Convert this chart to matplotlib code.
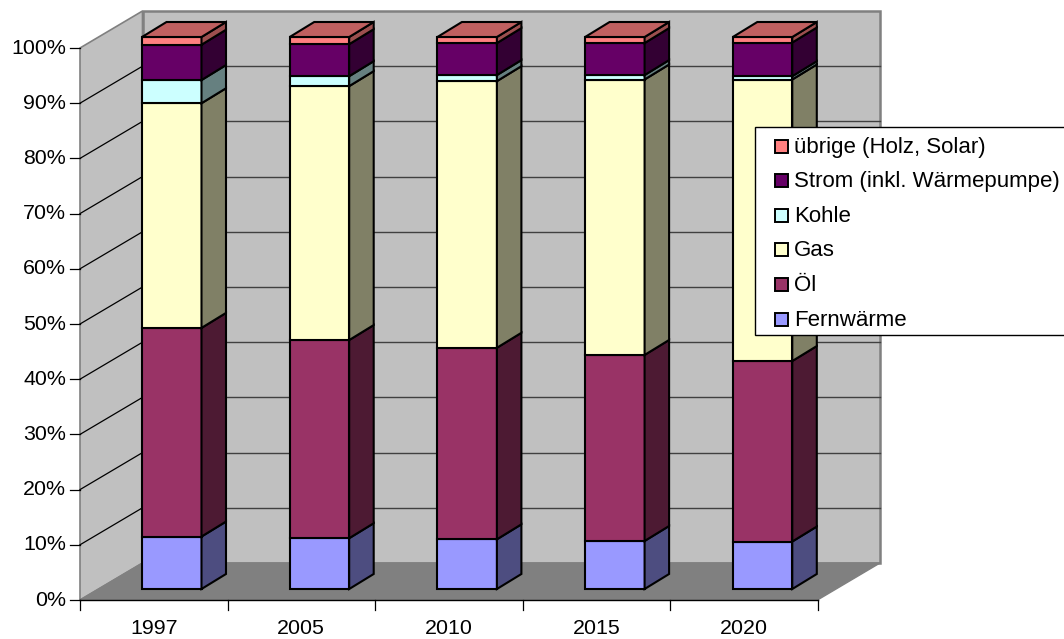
import matplotlib
matplotlib.use("Agg")
import matplotlib.pyplot as plt
import numpy as np
from matplotlib.patches import Polygon, Rectangle

plt.rcParams["font.family"] = ["Liberation Sans", "DejaVu Sans"]

YEARS = ["1997", "2005", "2010", "2015", "2020"]
FERNWAERME = [9.5, 9.2, 9.0, 8.7, 8.6]
OEL = [37.8, 35.9, 34.7, 33.7, 32.7]
GAS = [40.7, 46.0, 48.3, 49.9, 51.0]
KOHLE = [4.2, 1.8, 1.1, 0.8, 0.6]
STROM = [6.4, 5.8, 5.8, 5.8, 6.1]
UEBRIGE = [1.4, 1.3, 1.1, 1.1, 1.0]

SERIES = [FERNWAERME, OEL, GAS, KOHLE, STROM, UEBRIGE]
LABELS = ["Fernwärme", "Öl", "Gas", "Kohle", "Strom (inkl. Wärmepumpe)", "übrige (Holz, Solar)"]
FRONT = ["#9999FF", "#993366", "#FFFFCC", "#CCFFFF", "#660066", "#FF8080"]
SIDE = ["#4D4D80", "#4D1A33", "#808066", "#668080", "#330033", "#9C4F4F"]
TOP = "#C06060"
Y_TICKS = list(range(0, 101, 10))

# pixel layout of the fake 3D box
X0, X1 = 80, 817.5
Y0, PX_PER_PCT = 600, 5.52
DX, DY = 62.5, -37
BAR_X0, BAR_W, BAR_STEP = 142, 59.5, 147.7
BAR_Y0 = 589
BAR_DX, BAR_DY = 24.5, -15
WALL = "#C0C0C0"
FLOOR = "#808080"
TICK_FS = 15.4
LEGEND_FS = 16

fig = plt.figure(figsize=(10.64, 6.39), dpi=100)
ax = fig.add_axes([0, 0, 1, 1])
ax.set_xlim(0, 1064)
ax.set_ylim(639, 0)
ax.axis("off")


def front_y(pct):
    return Y0 - pct * PX_PER_PCT


def bar_y(pct):
    return BAR_Y0 - pct * PX_PER_PCT


# walls and floor
ax.add_patch(Polygon([(X0, front_y(100)), (X0 + DX, front_y(100) + DY), (X0 + DX, Y0 + DY), (X0, Y0)],
                     fc=WALL, ec=FLOOR, lw=1.2, zorder=1))
ax.add_patch(Rectangle((X0 + DX, front_y(100) + DY), X1 - X0, 100 * PX_PER_PCT,
                       fc=WALL, ec=FLOOR, lw=1.8, zorder=1))
ax.add_patch(Polygon([(X0, Y0), (X0 + DX, Y0 + DY), (X1 + DX, Y0 + DY), (X1, Y0)],
                     fc=FLOOR, ec=FLOOR, lw=1, zorder=2))

for t in Y_TICKS:
    y = front_y(t)
    if t > 0 and t < 100:
        ax.plot([X0, X0 + DX], [y, y + DY], color="black", lw=0.9, zorder=2)
        ax.plot([X0 + DX, X1 + DX], [y + DY, y + DY], color="#404040", lw=1.0, zorder=2)
    ax.plot([X0 - 10, X0], [y, y], color="black", lw=0.9, zorder=6)
    ax.text(X0 - 14, y, f"{t}%", ha="right", va="center", fontsize=TICK_FS, color="black")

# stacked bars
for i, year in enumerate(YEARS):
    left = BAR_X0 + i * BAR_STEP
    right = left + BAR_W
    bottom = 0.0
    for s, vals in enumerate(SERIES):
        v = vals[i]
        y_lo, y_hi = bar_y(bottom), bar_y(bottom + v)
        ax.bar(left, y_hi - y_lo, width=BAR_W, bottom=y_lo, align="edge",
               color=FRONT[s], edgecolor="black", linewidth=1.5, zorder=4)
        ax.add_patch(Polygon([(right, y_lo), (right + BAR_DX, y_lo + BAR_DY),
                              (right + BAR_DX, y_hi + BAR_DY), (right, y_hi)],
                             fc=SIDE[s], ec="black", lw=1.5, zorder=4))
        bottom += v
    y_top = bar_y(bottom)
    ax.add_patch(Polygon([(left, y_top), (right, y_top), (right + BAR_DX, y_top + BAR_DY),
                          (left + BAR_DX, y_top + BAR_DY)],
                         fc=TOP, ec="black", lw=1.5, zorder=4))

# front axis
step = (X1 - X0) / len(YEARS)
ax.plot([X0, X1], [Y0, Y0], color="black", lw=1.0, zorder=6)
for i in range(len(YEARS) + 1):
    ax.plot([X0 + i * step] * 2, [Y0, Y0 + 10], color="black", lw=0.9, zorder=6)
for i, year in enumerate(YEARS):
    ax.text(X0 + (i + 0.5) * step, 628, year, ha="center", va="center", fontsize=TICK_FS, color="black")

# legend box runs off the right edge like the original
ax.add_patch(Rectangle((754.5, 127), 330, 208, fc="white", ec="black", lw=1.0, zorder=8, clip_on=True))
legend_y = [319, 284, 249.5, 215, 180, 146]
for s, ly in enumerate(legend_y):
    ax.add_patch(Rectangle((774.5, ly - 6.5), 13, 13, fc=FRONT[s], ec="black", lw=1.4, zorder=9))
    ax.text(794, ly + 1.5, LABELS[s], ha="left", va="center", fontsize=LEGEND_FS, color="black", zorder=9)

fig.savefig("out.png", dpi=100)
